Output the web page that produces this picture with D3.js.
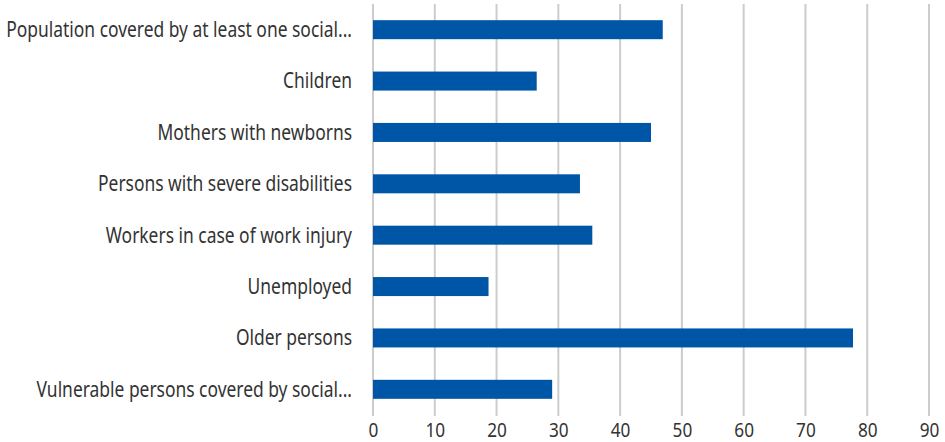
<!DOCTYPE html>
<html lang="en">
<head>
  <meta charset="UTF-8">
  <title>Social protection coverage</title>
  <script src="https://d3js.org/d3.v7.min.js"></script>
  <style>
    body { margin: 0; background: #fff; }
    svg { display: block; }
    .label, .tick text {
      font-family: "Noto Sans", sans-serif;
      fill: #333;
    }
    .label { font-size: 21px; }
    .tick text { font-size: 20px; }
    .grid line { stroke: #cccccc; stroke-width: 2px; }
  </style>
</head>
<body>
  <svg id="chart"></svg>
  <script>
    const categories = [
      "Population covered by at least one social...",
      "Children",
      "Mothers with newborns",
      "Persons with severe disabilities",
      "Workers in case of work injury",
      "Unemployed",
      "Older persons",
      "Vulnerable persons covered by social..."
    ];
    const values = [46.9, 26.5, 45.0, 33.5, 35.5, 18.7, 77.7, 29.0];
    const xTicks = [0, 10, 20, 30, 40, 50, 60, 70, 80, 90];

    const width = 945, height = 442;
    const margin = { top: 4, right: 16, bottom: 27, left: 373 };
    const labelRight = 352;
    // the source font is a condensed face; squeeze the text horizontally
    const labelSquash = 0.83;
    const tickSquash = 0.86;

    const svg = d3.select("#chart").attr("width", width).attr("height", height);

    const x = d3.scaleLinear()
      .domain([0, 90])
      .range([margin.left, width - margin.right]);

    const y = d3.scaleBand()
      .domain(categories)
      .range([margin.top, height - margin.bottom])
      .paddingInner(0.63)
      .paddingOuter(0.315);

    // vertical gridlines
    svg.append("g")
      .attr("class", "grid")
      .selectAll("line")
      .data(xTicks)
      .join("line")
      .attr("x1", d => x(d))
      .attr("x2", d => x(d))
      .attr("y1", margin.top)
      .attr("y2", height - margin.bottom + 1);

    // bars
    svg.append("g")
      .selectAll("rect")
      .data(values)
      .join("rect")
      .attr("x", x(0))
      .attr("y", (d, i) => y(categories[i]))
      .attr("width", d => x(d) - x(0))
      .attr("height", y.bandwidth())
      .attr("fill", "#0056a6");

    // category labels
    svg.append("g")
      .selectAll("text")
      .data(categories)
      .join("text")
      .attr("class", "label")
      .attr("text-anchor", "end")
      .attr("dy", "0.35em")
      .attr("transform", d => `translate(${labelRight},${y(d) + y.bandwidth() / 2}) scale(${labelSquash},1)`)
      .text(d => d);

    // x axis
    const xAxis = svg.append("g")
      .attr("transform", `translate(0,${height - margin.bottom})`)
      .call(d3.axisBottom(x).tickValues(xTicks).tickSize(0).tickPadding(8));
    xAxis.select(".domain").remove();
    xAxis.selectAll(".tick text").attr("transform", `scale(${tickSquash},1)`);
  </script>
</body>
</html>
